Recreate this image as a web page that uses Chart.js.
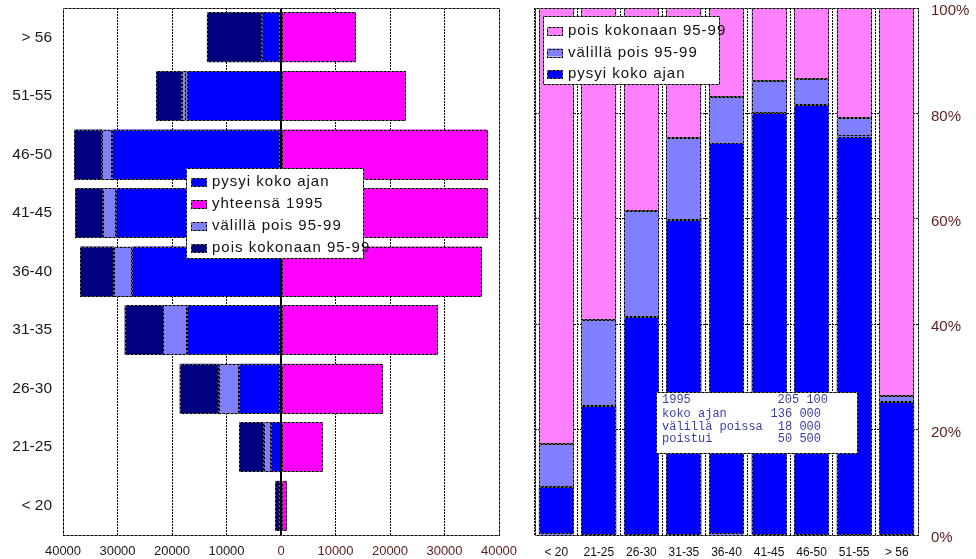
<!DOCTYPE html>
<html>
<head>
<meta charset="utf-8">
<title>Ikäryhmät 1995–1999</title>
<script src="https://cdn.jsdelivr.net/npm/chart.js@4.4.1/dist/chart.umd.min.js"></script>
<style>
  html, body { margin: 0; padding: 0; background: #fff; }
  #wrap { position: relative; width: 976px; height: 559px; overflow: hidden; }
  #left { position: absolute; left: 0; top: 0; }
  #right { position: absolute; left: 510px; top: 0; }
</style>
</head>
<body>
<div id="wrap">
  <canvas id="left" width="530" height="559"></canvas>
  <canvas id="right" width="466" height="559"></canvas>
</div>
<script>
// Age groups, youngest first
const ageGroups = ['< 20', '21-25', '26-30', '31-35', '36-40', '41-45', '46-50', '51-55', '> 56'];

// Persons per age group, 1995 cohort followed to 1999
const pysyiKokoAjan = [100, 1890, 7700, 17160, 27340, 30280, 30960, 17310, 3440];
const valillaPois   = [90, 1250, 3740, 4450, 3280, 2310, 1860, 800, 150];
const poisKokonaan  = [910, 4560, 7160, 7090, 6180, 5210, 5080, 4790, 10010];

// Axis ticks
const countTicks = [-40000, -30000, -20000, -10000, 0, 10000, 20000, 30000, 40000];
const shareTicks = [0, 20, 40, 60, 80, 100];

// Summary box
const summaryLabels = ['1995', 'koko ajan', 'välillä poissa', 'poistui'];
const summaryValues = [205100, 136000, 18000, 50500];

const totals1995 = ageGroups.map((_, i) => pysyiKokoAjan[i] + valillaPois[i] + poisKokonaan[i]);
const share = arr => arr.map((v, i) => v / totals1995[i] * 100);

const SANS = '"Liberation Sans", Arial, sans-serif';
const MONO = '"Liberation Mono", "Courier New", monospace';
const MAROON = '#5e1c1c';

function dashedRect(ctx, x, y, w, h) {
  ctx.save();
  ctx.lineWidth = 1;
  ctx.strokeStyle = '#000';
  ctx.setLineDash([]);
  ctx.strokeRect(Math.round(x) + 0.5, Math.round(y) + 0.5, Math.round(w), Math.round(h));
  ctx.strokeStyle = 'rgba(255,255,255,0.8)';
  ctx.setLineDash([1, 3]);
  ctx.strokeRect(Math.round(x) + 0.5, Math.round(y) + 0.5, Math.round(w), Math.round(h));
  ctx.restore();
}

// Keep the plot area exactly where the layout padding puts it
function fixedBox(size) {
  return s => {
    if (s.isHorizontal()) s.height = size; else s.width = size;
    s.paddingTop = 0; s.paddingBottom = 0; s.paddingLeft = 0; s.paddingRight = 0;
  };
}

// Dotted outlines around bars and the plot frame
const outlines = {
  id: 'outlines',
  afterDatasetsDraw(chart, args, opts) {
    const ctx = chart.ctx;
    const horizontal = chart.options.indexAxis === 'y';
    chart.data.datasets.forEach((ds, i) => {
      const meta = chart.getDatasetMeta(i);
      meta.data.forEach(el => {
        const p = el.getProps(['x', 'y', 'base', 'width', 'height'], true);
        let l, r, t, b;
        if (horizontal) {
          l = Math.min(p.x, p.base); r = Math.max(p.x, p.base);
          t = p.y - p.height / 2; b = p.y + p.height / 2;
        } else {
          l = p.x - p.width / 2; r = p.x + p.width / 2;
          t = Math.min(p.y, p.base); b = Math.max(p.y, p.base);
        }
        if (r - l < 1 || b - t < 1) return;
        dashedRect(ctx, l, t, r - l - 1, b - t - 1);
      });
    });
    if (opts.zeroLine) {
      const x0 = Math.round(chart.scales.x.getPixelForValue(0));
      const a = chart.chartArea;
      ctx.save();
      ctx.strokeStyle = '#000';
      ctx.lineWidth = 2;
      ctx.beginPath();
      ctx.moveTo(x0, a.top);
      ctx.lineTo(x0, a.bottom);
      ctx.stroke();
      ctx.restore();
    }
    const a = chart.chartArea;
    dashedRect(ctx, a.left, a.top, a.right - a.left, a.bottom - a.top);
  }
};

// Boxed legend placed inside the plot
const boxLegend = {
  id: 'boxLegend',
  afterDraw(chart, args, o) {
    if (!o.box) return;
    const ctx = chart.ctx;
    const order = o.reverse ? chart.data.datasets.map((_, i) => i).reverse()
                            : chart.data.datasets.map((_, i) => i);
    ctx.save();
    ctx.fillStyle = '#fff';
    ctx.fillRect(o.box.x, o.box.y, o.box.w, o.box.h);
    dashedRect(ctx, o.box.x, o.box.y, o.box.w, o.box.h);
    ctx.font = '15px ' + SANS;
    if ('letterSpacing' in ctx) ctx.letterSpacing = '1px';
    ctx.textBaseline = 'middle';
    order.forEach((di, k) => {
      const ds = chart.data.datasets[di];
      const cy = o.firstRow + k * o.rowStep;
      ctx.fillStyle = ds.backgroundColor;
      ctx.fillRect(o.swatchX, cy - 4, 15, 8);
      dashedRect(ctx, o.swatchX, cy - 4, 15, 8);
      ctx.fillStyle = '#111';
      ctx.fillText(ds.label, o.textX, cy);
    });
    ctx.restore();
  }
};

// Totals box
const summaryBox = {
  id: 'summaryBox',
  afterDraw(chart, args, o) {
    if (!o.box) return;
    const ctx = chart.ctx;
    const fmt = n => String(n).replace(/\B(?=(\d{3})+(?!\d))/g, ' ');
    ctx.save();
    ctx.fillStyle = '#fff';
    ctx.fillRect(o.box.x, o.box.y, o.box.w, o.box.h);
    dashedRect(ctx, o.box.x, o.box.y, o.box.w, o.box.h);
    ctx.font = '12px ' + MONO;
    ctx.fillStyle = '#3c3ca8';
    ctx.textBaseline = 'middle';
    summaryLabels.forEach((lab, i) => {
      const cy = o.rows[i];
      ctx.textAlign = 'left';
      ctx.fillText(lab, o.textX, cy);
      ctx.textAlign = 'right';
      ctx.fillText(fmt(summaryValues[i]), i === 0 ? o.valueX + 7 : o.valueX, cy);
    });
    ctx.restore();
  }
};

Chart.defaults.font.family = SANS;
Chart.defaults.animation = false;
Chart.defaults.events = [];
Chart.defaults.plugins.legend.display = false;
Chart.defaults.plugins.tooltip.enabled = false;

// Left: counts, stayed/left to the left of zero, 1995 total to the right
new Chart(document.getElementById('left'), {
  type: 'bar',
  data: {
    labels: ageGroups,
    datasets: [
      { label: 'pysyi koko ajan', data: pysyiKokoAjan.map(v => -v), backgroundColor: '#0000ff' },
      { label: 'yhteensä 1995', data: totals1995, backgroundColor: '#ff00ff' },
      { label: 'välillä pois 95-99', data: valillaPois.map(v => -v), backgroundColor: '#8080ff' },
      { label: 'pois kokonaan 95-99', data: poisKokonaan.map(v => -v), backgroundColor: '#000080' }
    ].map(d => Object.assign(d, { stack: 'ikä', borderWidth: 0, barPercentage: 0.85, categoryPercentage: 1 }))
  },
  options: {
    indexAxis: 'y',
    responsive: false,
    devicePixelRatio: 1,
    layout: { padding: { top: 8, right: 31, bottom: 0, left: 0 } },
    scales: {
      x: {
        type: 'linear', stacked: true,
        min: countTicks[0], max: countTicks[countTicks.length - 1],
        afterBuildTicks: s => { s.ticks = countTicks.map(v => ({ value: v })); },
        afterFit: fixedBox(24),
        grid: { color: '#000', lineWidth: 1, drawTicks: false },
        border: { display: false, dash: [2, 1] },
        ticks: {
          padding: 10,
          font: { size: 13, lineHeight: 1 },
          color: c => (c.tick && c.tick.value < 0 ? '#1a1a1a' : MAROON),
          callback: v => String(Math.abs(v))
        }
      },
      y: {
        stacked: true, reverse: true,
        afterFit: fixedBox(63),
        grid: { display: false, drawTicks: false },
        border: { display: false },
        ticks: { padding: 11, font: { size: 15.5, lineHeight: 1 }, color: '#1a1a1a' }
      }
    },
    plugins: {
      outlines: { zeroLine: true },
      boxLegend: { box: { x: 186, y: 168, w: 177, h: 90 }, firstRow: 182, rowStep: 22, swatchX: 191, textX: 212 }
    }
  },
  plugins: [outlines, boxLegend]
});

// Right: shares within each age group
new Chart(document.getElementById('right'), {
  type: 'bar',
  data: {
    labels: ageGroups,
    datasets: [
      { label: 'pysyi koko ajan', data: share(pysyiKokoAjan), backgroundColor: '#0000ff' },
      { label: 'välillä pois 95-99', data: share(valillaPois), backgroundColor: '#8080ff' },
      { label: 'pois kokonaan 95-99', data: share(poisKokonaan), backgroundColor: '#ff80ff' }
    ].map(d => Object.assign(d, { borderWidth: 0, barPercentage: 0.82, categoryPercentage: 1 }))
  },
  options: {
    responsive: false,
    devicePixelRatio: 1,
    layout: { padding: { top: 8, right: 0, bottom: 0, left: 25 } },
    scales: {
      x: {
        stacked: true,
        afterFit: fixedBox(24),
        grid: { color: '#000', lineWidth: 1, drawTicks: false, offset: true },
        border: { display: false, dash: [2, 1] },
        ticks: { padding: 12, font: { size: 12, lineHeight: 1 }, color: '#111' }
      },
      y: {
        stacked: true, position: 'right', min: 0, max: 100,
        afterBuildTicks: s => { s.ticks = shareTicks.map(v => ({ value: v })); },
        afterFit: fixedBox(58),
        grid: { color: '#000', lineWidth: 1, drawTicks: false },
        border: { display: false, dash: [2, 1] },
        ticks: { padding: 13, labelOffset: 3, font: { size: 15, lineHeight: 1 }, color: MAROON, callback: v => v + '%' }
      }
    },
    plugins: {
      outlines: { zeroLine: false },
      boxLegend: { box: { x: 33, y: 16, w: 176, h: 68 }, reverse: true, firstRow: 31, rowStep: 21.5, swatchX: 37, textX: 58 },
      summaryBox: { box: { x: 146, y: 392, w: 201, h: 61 }, textX: 152, valueX: 311, rows: [400, 414, 427, 439] }
    }
  },
  plugins: [outlines, boxLegend, summaryBox]
});
</script>
</body>
</html>
